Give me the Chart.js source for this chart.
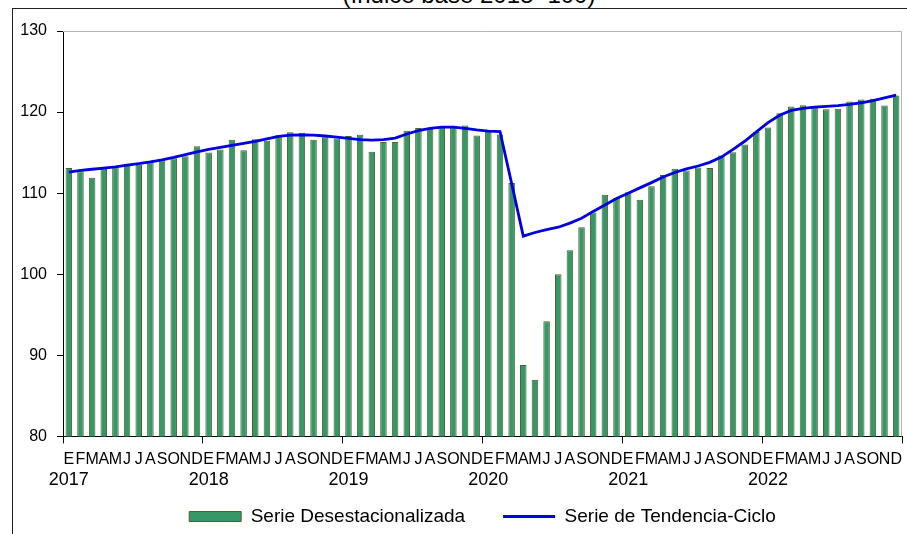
<!DOCTYPE html>
<html>
<head>
<meta charset="utf-8">
<script src="https://cdn.jsdelivr.net/npm/chart.js@4.4.1/dist/chart.umd.min.js"></script>
<style>
  body { margin: 0; background: #fff; font-family: "Liberation Sans", Arial, sans-serif; }
  #wrap { position: relative; width: 907px; height: 534px; overflow: hidden; }
  #frame { position: absolute; left: 12px; top: 8px; right: 0; bottom: 0; border-left: 1px solid #222; border-top: 1px solid #222; }
  #title { position: absolute; top: -17px; left: 469px; transform: translateX(-50%); font-size: 24px; line-height: 24px; white-space: nowrap; color: #000; }
  #c { position: absolute; left: 13px; top: 9px; }
</style>
</head>
<body>
<div id="wrap">
  <div id="title">(índice base 2018=100)</div>
  <div id="frame"></div>
  <canvas id="c" width="894" height="525"></canvas>
</div>
<script>
const months = ['E', 'F', 'M', 'A', 'M', 'J', 'J', 'A', 'S', 'O', 'N', 'D'];
const years = ['2017', '2018', '2019', '2020', '2021', '2022'];

// Serie desestacionalizada, ene 2017 - dic 2022
const seasonal = [
  113.1, 112.7, 111.9, 113.0, 113.2, 113.6, 113.5, 113.8, 114.05, 114.3, 114.55, 115.8,
  115.0, 115.4, 116.6, 115.3, 116.65, 116.45, 117.15, 117.5, 117.45, 116.6, 116.9, 116.75,
  117.05, 117.2, 115.1, 116.3, 116.3, 117.7, 118.05, 117.9, 118.15, 118.3, 118.35, 117.1,
  117.8, 117.25, 111.25, 88.8, 87.0, 94.2, 100.0, 102.95, 105.8, 107.6, 109.8, 109.4,
  110.1, 109.2, 110.85, 112.25, 113.0, 112.8, 113.15, 113.1, 114.65, 115.05, 116.0, 117.55,
  118.1, 119.85, 120.7, 120.85, 120.55, 120.35, 120.4, 121.3, 121.55, 121.65, 120.8, 122.05
];

// Serie de tendencia-ciclo
const trend = [
  112.6, 112.8, 112.95, 113.1, 113.25, 113.45, 113.65, 113.85, 114.1, 114.4, 114.75, 115.1,
  115.4, 115.65, 115.9, 116.15, 116.4, 116.7, 117.0, 117.15, 117.2, 117.15, 117.05, 116.9,
  116.75, 116.6, 116.55, 116.6, 116.8, 117.3, 117.7, 118.0, 118.15, 118.15, 118.0, 117.8,
  117.65, 117.6, 111.2, 104.7, 105.15, 105.5, 105.8, 106.3, 106.9, 107.75, 108.55, 109.35,
  110.0, 110.65, 111.3, 112.0, 112.55, 113.0, 113.35, 113.8, 114.45, 115.4, 116.4, 117.55,
  118.7, 119.6, 120.2, 120.45, 120.6, 120.7, 120.8, 120.95, 121.15, 121.4, 121.75, 122.1
];

const monthTicks = [];
const yearTicks = [];
years.forEach(y => {
  months.forEach((m, i) => {
    monthTicks.push(m);
    yearTicks.push(i === 0 ? y : '');
  });
});

const font = '"Liberation Sans", Arial, sans-serif';

// gray border on top and right of the plot area
const plotFrame = {
  id: 'plotFrame',
  beforeDatasetsDraw(chart) {
    const { ctx, chartArea: a } = chart;
    ctx.save();
    ctx.strokeStyle = '#b4b4b4';
    ctx.lineWidth = 1;
    ctx.beginPath();
    ctx.moveTo(a.left, a.top + 0.5);
    ctx.lineTo(a.right - 0.5, a.top + 0.5);
    ctx.lineTo(a.right - 0.5, a.bottom);
    ctx.stroke();
    ctx.restore();
  }
};

// legend sits closer to the year labels than its padding would allow
const legendShift = {
  id: 'legendShift',
  afterLayout(chart) {
    chart.legend.top -= 23;
    chart.legend.bottom -= 23;
  }
};

new Chart('c', {
  type: 'bar',
  data: {
    labels: monthTicks,
    datasets: [{
      label: 'Serie Desestacionalizada',
      data: seasonal,
      backgroundColor: '#359866',
      borderColor: '#52602c',
      borderWidth: 1,
      barPercentage: 0.56,
      categoryPercentage: 1,
      order: 1
    }, {
      type: 'line',
      label: 'Serie de Tendencia-Ciclo',
      data: trend,
      borderColor: '#0000e0',
      borderWidth: 2.8,
      pointRadius: 0,
      tension: 0,
      fill: false,
      order: 0
    }]
  },
  options: {
    responsive: false,
    animation: false,
    layout: { padding: { left: 0, right: 5, top: 22, bottom: -25 } },
    plugins: {
      tooltip: { enabled: false },
      legend: {
        position: 'bottom',
        fullSize: false,
        labels: {
          usePointStyle: true,
          pointStyleWidth: 52,
          boxHeight: 10,
          padding: 38,
          color: '#000',
          font: { family: font, size: 19 },
          generateLabels(chart) {
            const items = Chart.defaults.plugins.legend.labels.generateLabels(chart);
            items.sort((a, b) => a.datasetIndex - b.datasetIndex);
            items.forEach(it => { it.pointStyle = it.datasetIndex === 0 ? 'rect' : 'line'; });
            return items;
          }
        }
      }
    },
    scales: {
      x: {
        offset: true,
        grid: {
          offset: true,
          drawOnChartArea: false,
          tickLength: 7,
          color: ctx => (ctx.index === undefined || ctx.index % 12 === 0) ? '#000' : 'rgba(0,0,0,0)'
        },
        border: { color: '#000' },
        ticks: {
          autoSkip: false,
          maxRotation: 0,
          minRotation: 0,
          padding: 5,
          color: '#000',
          font: { family: font, size: 16, lineHeight: 1.375 }
        },
        afterFit(scale) { scale.height = 32; }
      },
      x2: {
        type: 'category',
        labels: yearTicks,
        position: 'bottom',
        offset: true,
        grid: { display: false, drawTicks: false, tickLength: 0 },
        border: { display: false },
        ticks: {
          autoSkip: false,
          maxRotation: 0,
          minRotation: 0,
          padding: 1,
          color: '#000',
          font: { family: font, size: 18 }
        }
      },
      y: {
        min: 80,
        max: 130,
        grid: { drawOnChartArea: false, tickLength: 6, color: '#000' },
        border: { color: '#000' },
        ticks: {
          stepSize: 10,
          padding: 10,
          color: '#000',
          font: { family: font, size: 16 }
        },
        afterFit(scale) { scale.width = 50; }
      }
    }
  },
  plugins: [plotFrame, legendShift]
});
</script>
</body>
</html>
